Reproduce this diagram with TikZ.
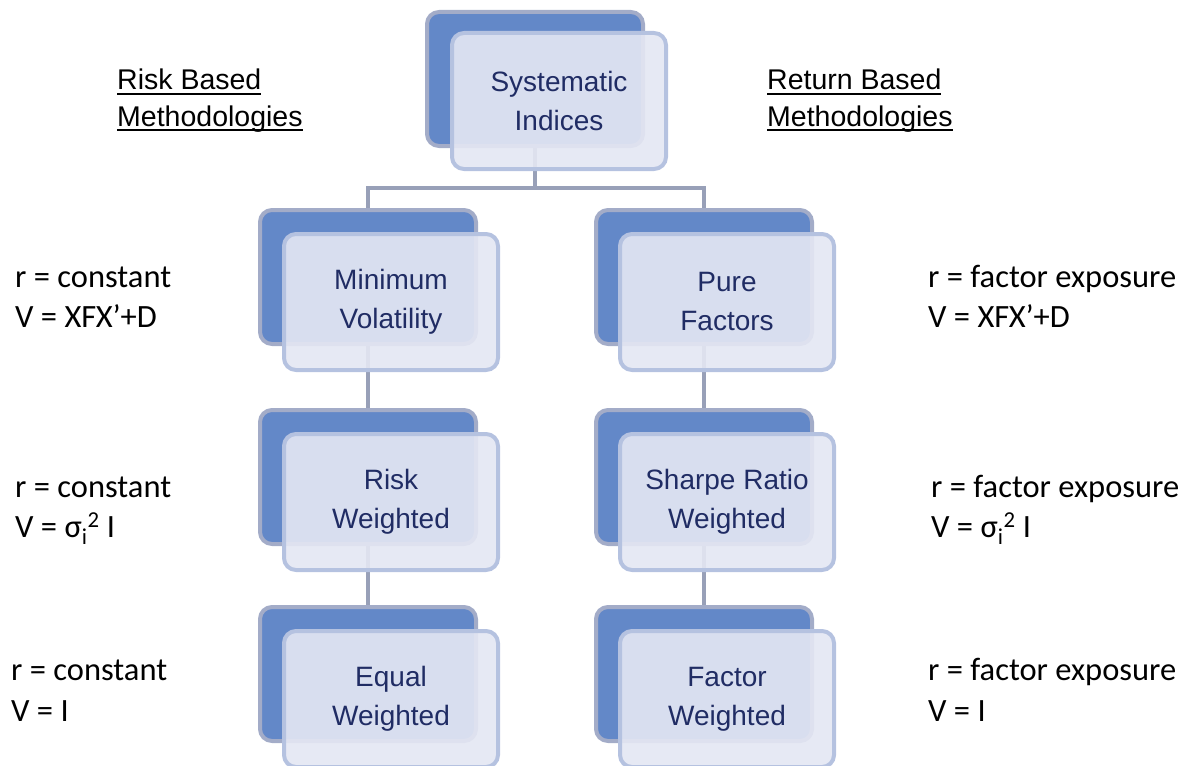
\documentclass[tikz,border=0pt]{standalone}
\usepackage{fontspec}
\setmainfont{Liberation Sans}
\newfontfamily\calib{Carlito}
\newcommand{\ulx}[1]{\setbox0\hbox{#1}\rlap{\rule[-5pt]{\wd0}{2pt}}\box0}
\pgfdeclarelayer{bg}
\pgfsetlayers{bg,main}
\definecolor{backfill}{RGB}{99,136,200}
\definecolor{backline}{RGB}{163,172,200}
\definecolor{frontfill}{RGB}{228,231,243}
\definecolor{frontline}{RGB}{181,194,224}
\definecolor{navy}{RGB}{32,44,100}
\definecolor{conn}{RGB}{152,160,184}
\tikzset{
  backbox/.style={rectangle, rounded corners=12pt, fill=backfill, draw=backline, line width=4pt, minimum width=216pt, minimum height=134pt, inner sep=0pt},
  frontbox/.style={rectangle, rounded corners=12pt, fill=frontfill, fill opacity=0.91, text opacity=1, draw=frontline, line width=4pt, minimum width=214pt, minimum height=136pt, inner sep=0pt, align=center, text=navy, font=\fontsize{28}{39}\selectfont},
  connector/.style={draw=conn, line width=4pt},
  sidelabel/.style={anchor=base west, inner sep=0pt, font=\calib\fontsize{32.5}{40}\selectfont, text=black},
  headlabel/.style={anchor=base west, inner sep=0pt, font=\fontsize{28.5}{36}\selectfont, text=black}
}
\begin{document}
\begin{tikzpicture}[x=1pt,y=-1pt]
\useasboundingbox (0,0) rectangle (1190,765);
% top
\node[backbox] (topb) at (535,79) {};
\node[frontbox] (topf) at (559,101) {Systematic\\Indices};
% left column
\node[backbox] (lb2) at (368,277) {};
\node[frontbox] (lf2) at (391,302) {Minimum\\Volatility};
\node[backbox] (lb3) at (368,477) {};
\node[frontbox] (lf3) at (391,502) {Risk\\Weighted};
\node[backbox] (lb4) at (368,674) {};
\node[frontbox] (lf4) at (391,699) {Equal\\Weighted};
% right column
\node[backbox] (rb2) at (704,277) {};
\node[frontbox] (rf2) at (727,302) {Pure\\Factors};
\node[backbox] (rb3) at (704,477) {};
\node[frontbox] (rf3) at (727,502) {Sharpe Ratio\\Weighted};
\node[backbox] (rb4) at (704,674) {};
\node[frontbox] (rf4) at (727,699) {Factor\\Weighted};
% connectors
\coordinate (hub) at (535,188);
\begin{pgfonlayer}{bg}
\draw[connector] (topb.south) -- (hub);
\draw[connector] (lb2.north) |- (hub) -| (rb2.north);
\draw[connector] (lb2.south) -- (lb3.north);
\draw[connector] (lb3.south) -- (lb4.north);
\draw[connector] (rb2.south) -- (rb3.north);
\draw[connector] (rb3.south) -- (rb4.north);
\end{pgfonlayer}
% headers
\node[headlabel] (h1a) at (117,90) {\ulx{Risk Based}};
\node[headlabel] (h1b) at (117,126) {\ulx{Methodologies}};
\node[headlabel] (h2a) at (767,90) {\ulx{Return Based}};
\node[headlabel] (h2b) at (767,126) {\ulx{Methodologies}};
% left labels
\node[sidelabel] (la2) at (15,287) {r = constant};
\node[sidelabel] (lv2) at (15,327) {V = XFX’+D};
\node[sidelabel] (la3) at (15,497) {r = constant};
\node[sidelabel] (lv3) at (15,537) {V = σ\textsubscript{i}\textsuperscript{2} I};
\node[sidelabel] (la4) at (11,680) {r = constant};
\node[sidelabel] (lv4) at (11,721) {V = I};
% right labels
\node[sidelabel] (ra2) at (928,287) {r = factor exposure};
\node[sidelabel] (rv2) at (928,327) {V = XFX’+D};
\node[sidelabel] (ra3) at (931,497) {r = factor exposure};
\node[sidelabel] (rv3) at (931,537) {V = σ\textsubscript{i}\textsuperscript{2} I};
\node[sidelabel] (ra4) at (928,680) {r = factor exposure};
\node[sidelabel] (rv4) at (928,721) {V = I};
\end{tikzpicture}
\end{document}
